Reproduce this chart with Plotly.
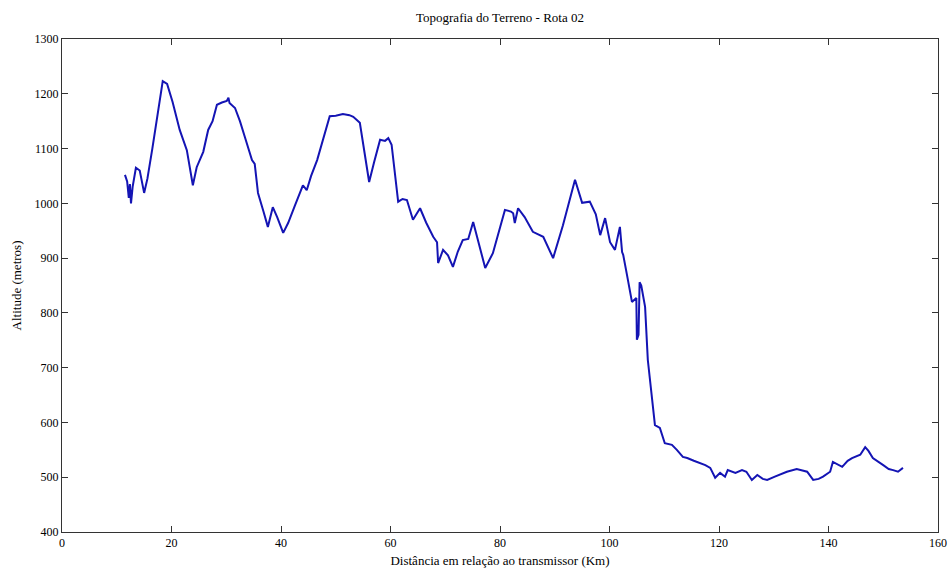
import plotly.graph_objects as go

dist_km = [11.5, 11.9, 12.2, 12.4, 12.6, 12.9, 13.5, 14.2, 15.0, 15.6, 16.5, 17.5, 18.4, 19.2, 20.2,
           21.5, 22.8, 23.9, 24.6, 25.8, 26.7, 27.5, 28.3, 29.2, 30.1, 30.4, 30.6, 31.6, 32.5, 33.4,
           34.2, 34.7, 35.2, 35.8, 36.8, 37.6, 38.5, 39.3, 40.4, 41.3, 42.5, 43.5, 44.0, 44.7, 45.5,
           46.6, 47.8, 48.9, 50.0, 51.3, 52.5, 53.2, 54.4, 55.0, 56.1, 57.0, 58.1, 59.0, 59.6, 60.2,
           60.8, 61.4, 62.2, 63.0, 64.1, 65.4, 66.5, 67.8, 68.5, 68.7, 69.6, 70.5, 71.4, 72.3, 73.2,
           74.2, 75.1, 76.2, 77.3, 78.7, 79.8, 80.9, 82.0, 82.4, 82.7, 83.3, 84.5, 86.0, 87.9, 88.6,
           89.7, 91.5, 93.7, 95.0, 96.4, 97.5, 98.3, 99.2, 100.1, 101.0, 101.9, 102.3, 102.5, 103.2,
           104.1, 104.9, 105.0, 105.3, 105.5, 105.8, 106.5, 107.0, 107.8, 108.3, 109.2, 110.1, 111.4,
           112.3, 113.4, 114.2, 115.4, 116.5, 117.5, 118.4, 119.3, 120.2, 121.1, 121.6, 123.0, 124.2,
           125.0, 126.0, 127.0, 128.0, 128.8, 130.2, 131.3, 132.4, 134.2, 135.2, 136.1, 137.2, 138.2,
           139.0, 140.3, 140.8, 142.5, 143.5, 144.3, 145.8, 146.7, 147.3, 148.1, 150.0, 151.0, 151.8,
           152.7, 153.6]

altitude_m = [1052, 1040, 1010, 1035, 1000, 1030, 1065, 1060, 1019, 1045, 1100, 1165, 1223, 1218, 1185,
              1134, 1097, 1033, 1066, 1094, 1134, 1150, 1180, 1184, 1187, 1193, 1183, 1174, 1150, 1121,
              1095, 1079, 1072, 1019, 985, 957, 993, 975, 946, 964, 995, 1019, 1033, 1024, 1050,
              1079, 1120, 1159, 1160, 1163, 1161, 1158, 1147, 1110, 1039, 1075, 1116, 1114, 1119, 1107,
              1050, 1003, 1008, 1006, 970, 991, 965, 939, 929, 891, 915, 905, 884, 912, 933,
              935, 966, 925, 882, 909, 950, 988, 985, 982, 964, 991, 975, 948, 939, 925,
              900, 960, 1043, 1001, 1003, 980, 942, 973, 929, 915, 957, 911, 906, 869,
              820, 827, 751, 760, 856, 850, 811, 714, 641, 595, 590, 562, 559,
              550, 537, 535, 530, 526, 522, 517, 499, 508, 501, 513, 508, 513,
              510, 495, 504, 497, 495, 501, 505, 510, 515, 513, 510, 495, 497,
              501, 510, 528, 519, 530, 535, 541, 555, 548, 535, 522, 515, 513,
              510, 517]

x_ticks = [0, 20, 40, 60, 80, 100, 120, 140, 160]
y_ticks = [400, 500, 600, 700, 800, 900, 1000, 1100, 1200, 1300]

font_family = "Times New Roman, Liberation Serif, serif"

fig = go.Figure()
fig.add_trace(go.Scatter(
    x=dist_km, y=altitude_m, mode="lines",
    line=dict(color="#1414b4", width=2),
    showlegend=False,
))

axis_common = dict(
    showgrid=False, zeroline=False, automargin=False,
    showline=True, linecolor="#333333", linewidth=1, mirror="ticks",
    ticks="inside", ticklen=6, tickcolor="#333333", tickwidth=1,
    tickfont=dict(family=font_family, size=12, color="black"),
)

fig.update_layout(
    width=951, height=572,
    margin=dict(l=62, r=13, t=39, b=40),
    paper_bgcolor="white", plot_bgcolor="white",
    font=dict(family=font_family, size=12, color="black"),
    title=dict(text="Topografia do Terreno - Rota 02", x=0.5, xanchor="center",
               xref="paper",
               y=1 - 17 / 572, yanchor="middle",
               font=dict(family=font_family, size=13, color="black")),
    xaxis=dict(range=[0, 160], tickvals=x_ticks,
               title=dict(text="Distância em relação ao transmissor (Km)", standoff=6,
                          font=dict(family=font_family, size=13)),
               **axis_common),
    yaxis=dict(range=[400, 1300], tickvals=y_ticks,
               title=dict(text="Altitude (metros)", standoff=10,
                          font=dict(family=font_family, size=13)),
               **axis_common),
)

fig.write_html(
    "out.html",
    config={"displayModeBar": False},
    post_script="document.body.style.margin='0';document.body.style.overflow='hidden';",
)
